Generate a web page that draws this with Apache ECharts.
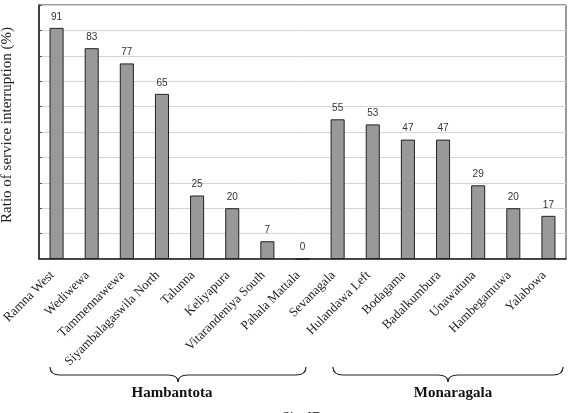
<!DOCTYPE html>
<html>
<head>
<meta charset="utf-8">
<script src="https://cdn.jsdelivr.net/npm/echarts@6/dist/echarts.min.js"></script>
<style>
  html, body { margin: 0; padding: 0; background: #fff; }
  #myChart { width: 571px; height: 413px; }
</style>
</head>
<body>
<div id="myChart"></div>
<script>
// sites, grouped by district
var sites = [
  "Ramna West", "Wediwewa", "Tammennawewa", "Siyambalagaswila North",
  "Talunna", "Keliyapura", "Vitarandeniya South", "Pahala Mattala",
  "Sevanagala", "Hulandawa Left", "Bodagama", "Badalkumbura",
  "Unawatuna", "Hambegamuwa", "Yalabowa"
];
var ratio = [91, 83, 77, 65, 25, 20, 7, 0, 55, 53, 47, 47, 29, 20, 17];
var districts = ["Hambantota", "Monaragala"];

var myChart = echarts.init(document.getElementById("myChart"));

var serif = "'Liberation Serif', 'DejaVu Serif', serif";
var braceStyle = { fill: null, stroke: "#222", lineWidth: 1.2 };

// curly brace under a group of labels, built from curves and lines
function brace(x1, x2, y) {
  var m = (x1 + x2) / 2;
  var q = function (ax, ay, bx, by, cx, cy) {
    return { type: "bezierCurve", shape: { x1: ax, y1: ay, x2: bx, y2: by, cpx1: cx, cpy1: cy }, style: braceStyle };
  };
  var l = function (ax, bx) {
    return { type: "line", shape: { x1: ax, y1: y, x2: bx, y2: y }, style: braceStyle };
  };
  return {
    type: "group",
    children: [
      q(x1, y - 8, x1 + 10, y, x1, y),
      l(x1 + 10, m - 10),
      q(m - 10, y, m, y + 7, m, y),
      q(m, y + 7, m + 10, y, m, y),
      l(m + 10, x2 - 10),
      q(x2 - 10, y, x2, y - 8, x2, y)
    ]
  };
}

myChart.setOption({
  animation: false,
  grid: {
    left: 39,
    right: 5,
    top: 5,
    bottom: 154,
    outerBoundsMode: "none",
    containLabel: false,
    show: true,
    borderColor: "#333",
    borderWidth: 1
  },
  xAxis: {
    type: "category",
    data: sites,
    axisLine: { lineStyle: { color: "#222", width: 1.5 } },
    axisTick: { inside: true, length: 4, lineStyle: { color: "#555" } },
    axisLabel: {
      interval: 0,
      rotate: 45,
      margin: 10,
      padding: [0, 6, 0, 0],
      fontFamily: serif,
      fontSize: 13,
      color: "#222"
    }
  },
  yAxis: {
    type: "value",
    min: 0,
    max: 100,
    interval: 10,
    name: "Ratio of service interruption (%)",
    nameLocation: "middle",
    nameGap: 24,
    nameTextStyle: { fontFamily: serif, fontSize: 15, color: "#222", padding: [0, 0, 0, 14] },
    axisLine: { show: true, lineStyle: { color: "#222", width: 1.5 } },
    axisTick: { show: true, inside: true, length: 3, lineStyle: { color: "#555" } },
    axisLabel: { show: false },
    splitLine: { lineStyle: { color: "#d4d4d4" } }
  },
  series: [
    {
      type: "bar",
      data: ratio,
      barWidth: "40%",
      itemStyle: { color: "#999", borderColor: "#222", borderWidth: 1 },
      label: {
        show: true,
        position: "top",
        distance: 6,
        fontFamily: "'Liberation Sans', Arial, sans-serif",
        fontSize: 10,
        color: "#333"
      }
    }
  ],
  graphic: [
    brace(50, 306, 375),
    brace(333, 563, 375),
    { type: "text", x: 172, y: 393, style: { text: districts[0], font: "bold 15px " + serif, fill: "#111", align: "center", verticalAlign: "middle" } },
    { type: "text", x: 453, y: 393, style: { text: districts[1], font: "bold 15px " + serif, fill: "#111", align: "center", verticalAlign: "middle" } },
    { type: "text", x: 302, y: 411, style: { text: "Site ID", font: "14px " + serif, fill: "#222", align: "center", verticalAlign: "top" } }
  ]
});
</script>
</body>
</html>
